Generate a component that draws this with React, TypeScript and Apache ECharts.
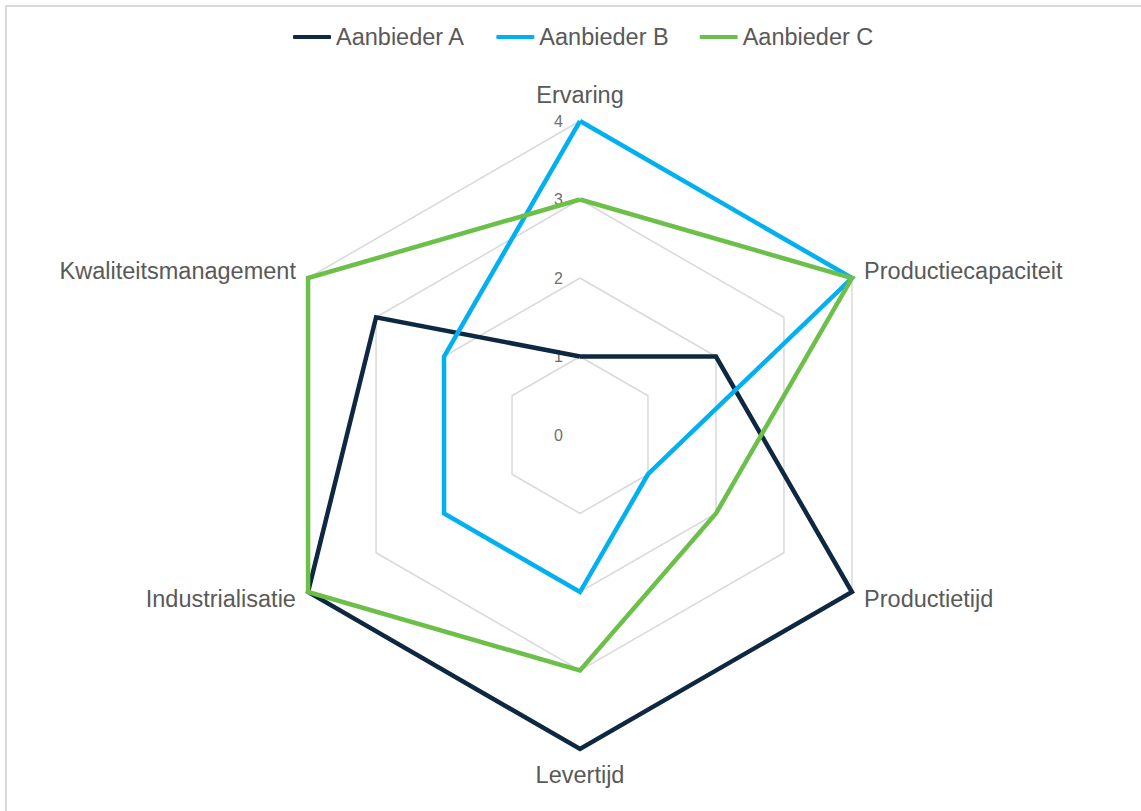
import React, { useEffect, useRef } from "react";
import * as echarts from "echarts";

// ECharts lays radar indicators out counter-clockwise from the top
const categories = [
  "Ervaring",
  "Kwaliteitsmanagement",
  "Industrialisatie",
  "Levertijd",
  "Productietijd",
  "Productiecapaciteit",
];
const seriesNames = ["Aanbieder A", "Aanbieder B", "Aanbieder C"];
const valuesA = [1, 3, 4, 4, 4, 2];
const valuesB = [4, 2, 2, 2, 1, 4];
const valuesC = [3, 4, 4, 3, 2, 4];
const seriesColors = ["#0E2841", "#00B0F0", "#6CC04A"];
const axisMin = 0;
const axisMax = 4;

const FONT = "'Liberation Sans', Arial, sans-serif";

export default function App() {
  const ref = useRef<HTMLDivElement>(null);
  useEffect(() => {
    if (!ref.current) return;
    const chart = echarts.init(ref.current, undefined, { renderer: "svg" });
    const allValues = [valuesA, valuesB, valuesC];
    const tickLabel = {
      color: "#6f6f6f",
      fontSize: 16,
      margin: 17,
      fontFamily: FONT,
    };
    chart.setOption({
      animation: false,
      backgroundColor: "#ffffff",
      textStyle: { fontFamily: FONT },
      graphic: [
        {
          type: "rect",
          silent: true,
          z: -1,
          shape: { x: 6, y: 6, width: 1200, height: 900 },
          style: { fill: "none", stroke: "#d9d9d9", lineWidth: 2 },
        },
      ],
      legend: {
        left: 293,
        top: 25,
        padding: 0,
        itemWidth: 38,
        itemHeight: 4,
        itemGap: 31,
        icon: "roundRect",
        data: seriesNames,
        textStyle: { color: "#595959", fontSize: 23.5, fontFamily: FONT, lineHeight: 24 },
      },
      radar: {
        center: [580, 435],
        radius: 314,
        startAngle: 90,
        shape: "polygon",
        splitNumber: 4,
        nameGap: 14,
        axisName: { color: "#595959", fontSize: 23.5, fontFamily: FONT },
        indicator: categories.map((name, i) =>
          i === 0
            ? { name, min: axisMin, max: axisMax, axisLabel: { show: true, ...tickLabel } }
            : { name, min: axisMin, max: axisMax }
        ),
        splitLine: { lineStyle: { color: "#d9d9d9", width: 1.5 } },
        splitArea: { show: false },
        axisLine: { show: false },
        axisTick: { show: false },
        axisLabel: { show: false, ...tickLabel },
      },
      series: [
        {
          type: "radar",
          symbol: "none",
          data: seriesNames.map((name, i) => ({
            name,
            value: allValues[i],
            itemStyle: { color: seriesColors[i] },
            lineStyle: { color: seriesColors[i], width: 4.5, join: "miter" },
          })),
        },
      ],
    });
    return () => chart.dispose();
  }, []);
  return (
    <div
      ref={ref}
      style={{ position: "fixed", left: 0, top: 0, width: 1141, height: 811 }}
    />
  );
}
